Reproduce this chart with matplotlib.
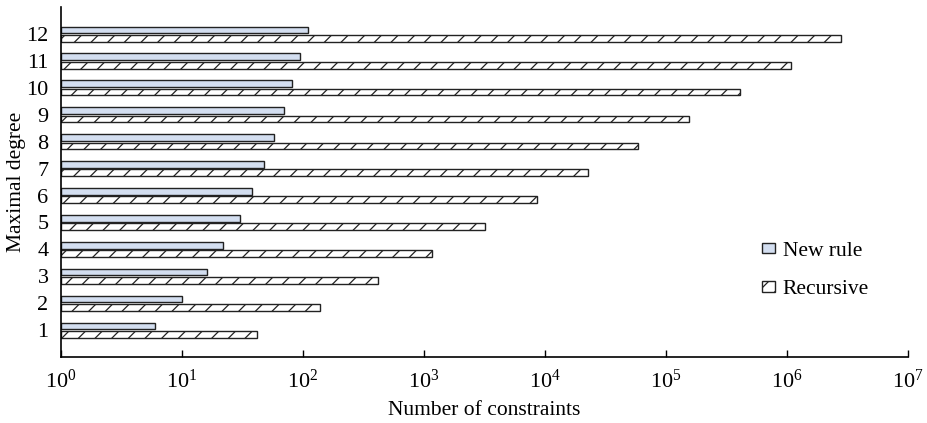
import numpy as np
import matplotlib
matplotlib.use('Agg')
import matplotlib.pyplot as plt

plt.rcParams['font.family'] = 'Liberation Serif'
plt.rcParams['mathtext.fontset'] = 'custom'
plt.rcParams['mathtext.rm'] = 'Liberation Serif'
plt.rcParams['mathtext.it'] = 'Liberation Serif:italic'
plt.rcParams['hatch.linewidth'] = 0.9

degrees = list(range(1, 13))
new_rule = [6, 10, 16, 22, 30, 38, 48, 58, 70, 81, 94, 110]
recursive = [42, 138, 417, 1165, 3190, 8600, 22700, 58700, 155000, 409000, 1080000, 2800000]

y = np.array(degrees)
h = 0.25
off = 0.155

fig = plt.figure(figsize=(9.28, 4.23), dpi=100)
ax = fig.add_axes([0.0657, 0.156, 0.9127, 0.827])

# bars start at 10^0 on the log axis
ax.barh(y + off, np.array(new_rule) - 1, height=h, left=1, color='#d3def0',
        edgecolor='#222222', linewidth=1.0, label='New rule')
ax.barh(y - off, np.array(recursive) - 1, height=h, left=1, color='white',
        edgecolor='#222222', linewidth=1.0, hatch='//', label='Recursive')

ax.set_xscale('log')
ax.set_xlim(1, 1e7)
ax.set_ylim(0, 13)
ax.set_yticks(degrees)
ax.set_yticklabels([str(d) for d in degrees])
ax.set_xticks([10**k for k in range(8)])
ax.xaxis.set_minor_locator(matplotlib.ticker.NullLocator())
ax.tick_params(axis='x', direction='in', length=5, width=1, labelsize=16, pad=9)
ax.tick_params(axis='y', length=0, labelsize=16, pad=9)

ax.spines['top'].set_visible(False)
ax.spines['right'].set_visible(False)
ax.spines['left'].set_linewidth(1.2)
ax.spines['bottom'].set_linewidth(1.2)

ax.set_xlabel('Number of constraints', fontsize=15.5, labelpad=6)
ax.set_ylabel('Maximal degree', fontsize=15.5, labelpad=0)

ax.legend(loc='center left', bbox_to_anchor=(0.828, 0.248), frameon=False,
          fontsize=15.5, handlelength=0.6, handleheight=0.38, handletextpad=0.35,
          labelspacing=0.9, borderpad=0, borderaxespad=0)

fig.savefig('out.png', dpi=100)
